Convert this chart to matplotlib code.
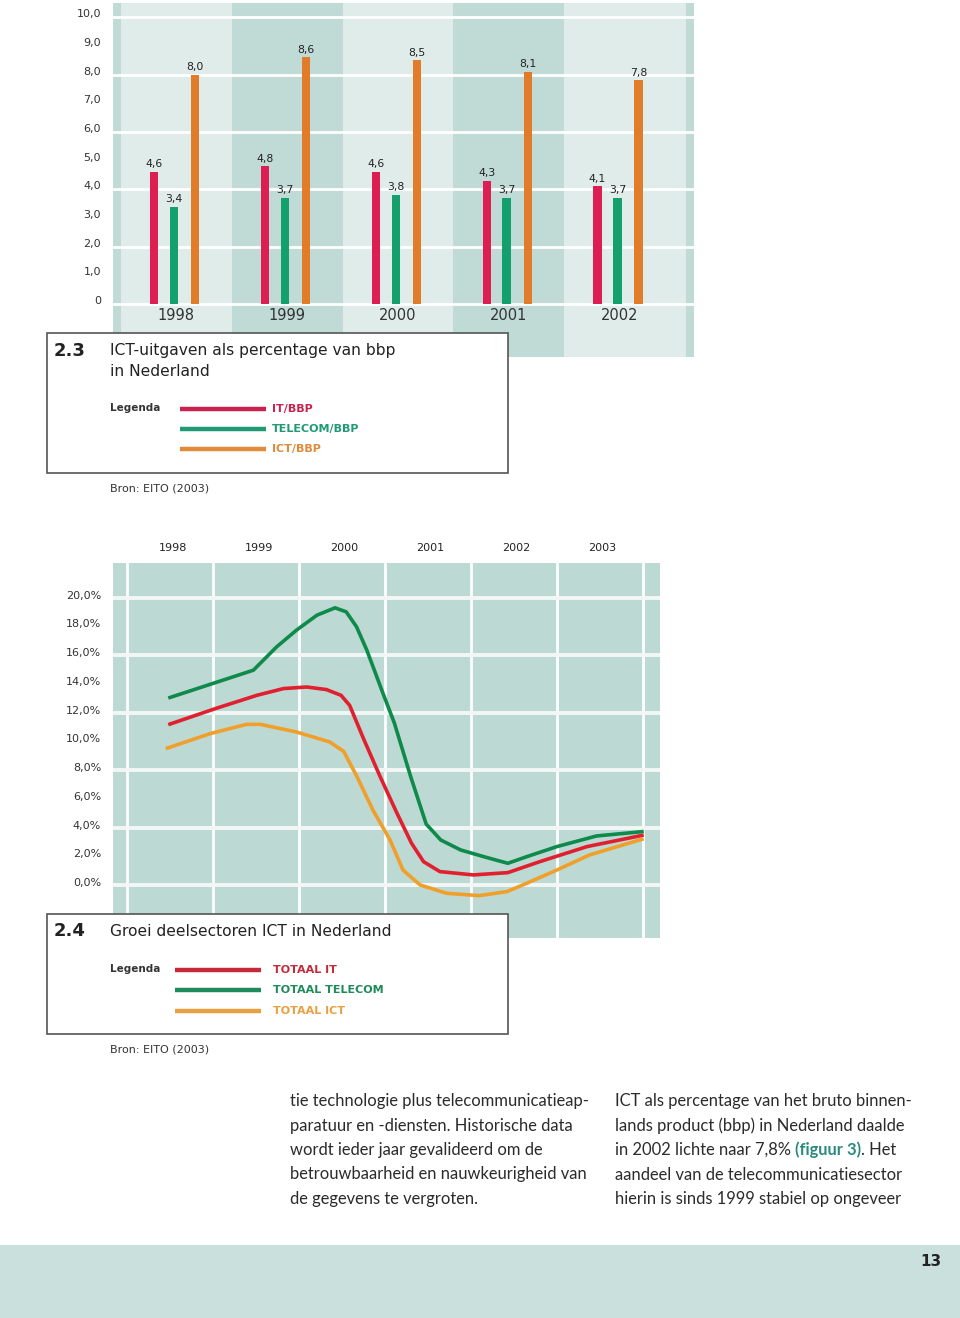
"""ICT-uitgaven (bar chart 2.3) en groei deelsectoren ICT (line chart 2.4), page layout."""

import matplotlib
matplotlib.use("Agg")
import matplotlib.pyplot as plt
import matplotlib.transforms as mtransforms
from matplotlib.lines import Line2D
from matplotlib.patches import Rectangle

# ================== Data ==================
BAR_YEARS = ["1998", "1999", "2000", "2001", "2002"]
IT_BBP = [4.6, 4.8, 4.6, 4.3, 4.1]
TELECOM_BBP = [3.4, 3.7, 3.8, 3.7, 3.7]
ICT_BBP = [8.0, 8.6, 8.5, 8.1, 7.8]
BAR_TICKS = [0, 1, 2, 3, 4, 5, 6, 7, 8, 9, 10]
BAR_TICK_LABELS = ["0", "1,0", "2,0", "3,0", "4,0", "5,0", "6,0", "7,0", "8,0", "9,0", "10,0"]

LINE_YEARS = [1998, 1999, 2000, 2001, 2002, 2003]
LINE_TICKS = [0, 2, 4, 6, 8, 10, 12, 14, 16, 18, 20]
LINE_TICK_LABELS = ["0,0%", "2,0%", "4,0%", "6,0%", "8,0%", "10,0%",
                    "12,0%", "14,0%", "16,0%", "18,0%", "20,0%"]

# curves (x in years, y in %)
TOTAAL_IT_X = [1998.0, 1998.54, 1999.01, 1999.32, 1999.59, 1999.82, 1999.99, 2000.09,
               2000.25, 2000.44, 2000.64, 2000.81, 2000.95, 2001.14, 2001.53, 2001.93,
               2002.30, 2002.85, 2003.49]
TOTAAL_IT_Y = [11.2, 12.3, 13.2, 13.67, 13.78, 13.6, 13.2, 12.5,
               10.2, 7.6, 5.0, 2.9, 1.62, 0.93, 0.70, 0.86,
               1.62, 2.67, 3.45]

TOTAAL_TELECOM_X = [1998.0, 1998.97, 1999.24, 1999.47, 1999.71, 1999.92, 2000.05, 2000.17,
                    2000.29, 2000.48, 2000.61, 2000.80, 2000.98, 2001.15, 2001.38, 2001.65,
                    2001.93, 2002.15, 2002.50, 2002.96, 2003.49]
TOTAAL_TELECOM_Y = [13.05, 14.95, 16.57, 17.73, 18.78, 19.29, 19.01, 17.97,
                    16.34, 13.3, 11.27, 7.54, 4.24, 3.13, 2.44, 1.97,
                    1.51, 1.97, 2.67, 3.41, 3.71]

TOTAAL_ICT_X = [1997.97, 1998.47, 1998.89, 1999.05, 1999.47, 1999.86, 2000.02, 2000.17,
                2000.36, 2000.56, 2000.71, 2000.91, 2001.22, 2001.60, 2001.92, 2002.15,
                2002.50, 2002.88, 2003.49]
TOTAAL_ICT_Y = [9.53, 10.54, 11.18, 11.18, 10.65, 9.95, 9.3, 7.6,
                5.22, 3.13, 1.04, 0.0, -0.58, -0.74, -0.46, 0.12,
                1.04, 2.09, 3.18]

BODY_LEFT = [
    "tie technologie plus telecommunicatieap-",
    "paratuur en -diensten. Historische data",
    "wordt ieder jaar gevalideerd om de",
    "betrouwbaarheid en nauwkeurigheid van",
    "de gegevens te vergroten.",
]
BODY_RIGHT = [
    ["ICT als percentage van het bruto binnen-"],
    ["lands product (bbp) in Nederland daalde"],
    ["in 2002 lichte naar 7,8% ", "(figuur 3)", ". Het"],
    ["aandeel van de telecommunicatiesector"],
    ["hierin is sinds 1999 stabiel op ongeveer"],
]

# ================== Style ==================
FIG_W, FIG_H = 960, 1318
BAND_LIGHT = "#dfecea"
BAND_DARK = "#c0dad5"
PANEL = "#bdd9d4"
FOOTER = "#c9e0dc"
BAR_RED, BAR_GREEN, BAR_ORANGE = "#dc1e52", "#14a06c", "#e07c2a"
LINE_RED, LINE_GREEN, LINE_ORANGE = "#e0202e", "#0e8a4a", "#f0a02a"
TEXT = "#2b2b2b"
FONT = "DejaVu Sans"

plt.rcParams["font.family"] = FONT


def fx(px):
    return px / FIG_W


def fy(py):
    return 1 - py / FIG_H


def add_axes_px(fig, x0, y0, x1, y1):
    return fig.add_axes([fx(x0), fy(y1), (x1 - x0) / FIG_W, (y1 - y0) / FIG_H])


def caption_box(fig, y0, y1, number, title_lines, labels, colors, line_x, label_x, rows_y, bron_y):
    fig.add_artist(Rectangle((fx(47), fy(y1)), (508 - 47) / FIG_W, (y1 - y0) / FIG_H,
                             transform=fig.transFigure, facecolor="white",
                             edgecolor="#555555", linewidth=1.2, zorder=10))
    fig.text(fx(54), fy(title_lines[0][1]), number, fontsize=13, fontweight="bold",
             color="#222222", va="center", zorder=11)
    for txt, ty in title_lines:
        fig.text(fx(110), fy(ty), txt, fontsize=11.2, color="#222222", va="center", zorder=11)
    fig.text(fx(110), fy(rows_y[0] - 1), "Legenda", fontsize=7.5, fontweight="bold",
             color="#333333", va="center", zorder=11)
    for lab, col, ry in zip(labels, colors, rows_y):
        fig.add_artist(Line2D([fx(line_x[0]), fx(line_x[1])], [fy(ry), fy(ry)],
                              transform=fig.transFigure, color=col, linewidth=3.2,
                              solid_capstyle="butt", zorder=11))
        fig.text(fx(label_x), fy(ry), lab, fontsize=8, fontweight="bold",
                 color=col, va="center", zorder=11)
    fig.text(fx(110), fy(bron_y), "Bron: EITO (2003)", fontsize=8, color="#333333",
             va="center", zorder=11)


fig = plt.figure(figsize=(FIG_W / 100, FIG_H / 100), dpi=100)
fig.patch.set_facecolor("white")

# ================== Bar chart (2.3) ==================
ax = add_axes_px(fig, 113, 3, 694, 357)
ax.set_xlim(-0.57, 4.67)
ax.set_ylim(-1.85, 10.5)
ax.axis("off")
ax.axvspan(-0.57, 4.67, color=BAND_DARK, zorder=0, lw=0)
for i in range(0, len(BAR_YEARS), 2):
    right = i + 0.5 if i < len(BAR_YEARS) - 1 else 4.6
    ax.axvspan(i - 0.5, right, color=BAND_LIGHT, zorder=0.5, lw=0)
for v in range(0, 11, 2):
    ax.axhline(v, color="white", linewidth=2.0, zorder=1)

xs = list(range(len(BAR_YEARS)))
for vals, off, col in [(IT_BBP, -0.2, BAR_RED), (TELECOM_BBP, -0.02, BAR_GREEN),
                       (ICT_BBP, 0.17, BAR_ORANGE)]:
    pos = [x + off for x in xs]
    ax.bar(pos, vals, width=0.075, color=col, zorder=2)
    for p, v in zip(pos, vals):
        ax.annotate(f"{v:.1f}".replace(".", ","), (p, v), xytext=(0, 2),
                    textcoords="offset points", ha="center", va="bottom",
                    fontsize=7.8, color="#222222")
for x, year in zip(xs, BAR_YEARS):
    ax.text(x, -0.4, year, ha="center", va="center", fontsize=10.5, color="#333333")

lab_tr = mtransforms.blended_transform_factory(fig.transFigure, ax.transData)
lab_tr = lab_tr + mtransforms.ScaledTranslation(0, 3 / 100, fig.dpi_scale_trans)
for v, lab in zip(BAR_TICKS, BAR_TICK_LABELS):
    fig.text(fx(101), v, lab, transform=lab_tr, ha="right", va="center",
             fontsize=8, color="#333333")

caption_box(fig, 333, 473, "2.3",
            [("ICT-uitgaven als percentage van bbp", 351), ("in Nederland", 371)],
            ["IT/BBP", "TELECOM/BBP", "ICT/BBP"],
            ["#c8234f", "#1f9a73", "#e08a3a"],
            (180, 266), 272, [409, 429, 449], 489)

# ================== Line chart (2.4) ==================
ax2 = add_axes_px(fig, 113, 563, 660, 938)
ax2.set_xlim(1997.337, 2003.70)
ax2.set_ylim(-3.69, 22.41)
ax2.set_facecolor(PANEL)
for s in ax2.spines.values():
    s.set_visible(False)
ax2.set_xticks([])
ax2.set_yticks([])
for k in range(7):
    ax2.axvline(1997.5 + k, color="white", linewidth=2.0, zorder=1)
for v in range(0, 21, 4):
    ax2.axhline(v, color="#f2f7f6", linewidth=2.8, zorder=1)

ax2.plot(TOTAAL_TELECOM_X, TOTAAL_TELECOM_Y, color=LINE_GREEN, linewidth=2.6, zorder=3,
         solid_joinstyle="round")
ax2.plot(TOTAAL_IT_X, TOTAAL_IT_Y, color=LINE_RED, linewidth=2.6, zorder=3,
         solid_joinstyle="round")
ax2.plot(TOTAAL_ICT_X, TOTAAL_ICT_Y, color=LINE_ORANGE, linewidth=2.6, zorder=3,
         solid_joinstyle="round")

lab_tr2 = mtransforms.blended_transform_factory(fig.transFigure, ax2.transData)
lab_tr2 = lab_tr2 + mtransforms.ScaledTranslation(0, 2 / 100, fig.dpi_scale_trans)
for v, lab in zip(LINE_TICKS, LINE_TICK_LABELS):
    fig.text(fx(101), v, lab, transform=lab_tr2, ha="right", va="center",
             fontsize=8, color="#333333")
year_tr = mtransforms.blended_transform_factory(ax2.transData, fig.transFigure)
for yr in LINE_YEARS:
    fig.text(yr + 0.03, fy(548), str(yr), transform=year_tr, ha="center", va="center",
             fontsize=8, color="#222222")

caption_box(fig, 914, 1034, "2.4",
            [("Groei deelsectoren ICT in Nederland", 931)],
            ["TOTAAL IT", "TOTAAL TELECOM", "TOTAAL ICT"],
            ["#c42a3a", "#1f8a5a", "#e8a040"],
            (175, 261), 273, [970, 990, 1011], 1050)

# ================== Body text and footer ==================
BODY_Y = [1101, 1125.5, 1150, 1174.5, 1199]
BODY_SIZE = 11.9
for line, y in zip(BODY_LEFT, BODY_Y):
    fig.text(fx(290), fy(y), line, fontsize=BODY_SIZE, color=TEXT, va="center",
             family="Lato")

renderer = fig.canvas.get_renderer()
for parts, y in zip(BODY_RIGHT, BODY_Y):
    x = 615
    for j, part in enumerate(parts):
        is_ref = part.startswith("(figuur")
        t = fig.text(fx(x), fy(y), part, fontsize=BODY_SIZE, va="center", family="Lato",
                     color="#2a8a7e" if is_ref else TEXT,
                     fontweight="bold" if is_ref else "normal")
        x += t.get_window_extent(renderer).width

fig.add_artist(Rectangle((0, 0), 1, (FIG_H - 1245) / FIG_H, transform=fig.transFigure,
                         facecolor=FOOTER, edgecolor="none", zorder=0))
fig.text(fx(941), fy(1262), "13", fontsize=11, fontweight="bold", color="#222222",
         ha="right", va="center")

fig.savefig("out.png", dpi=100)
